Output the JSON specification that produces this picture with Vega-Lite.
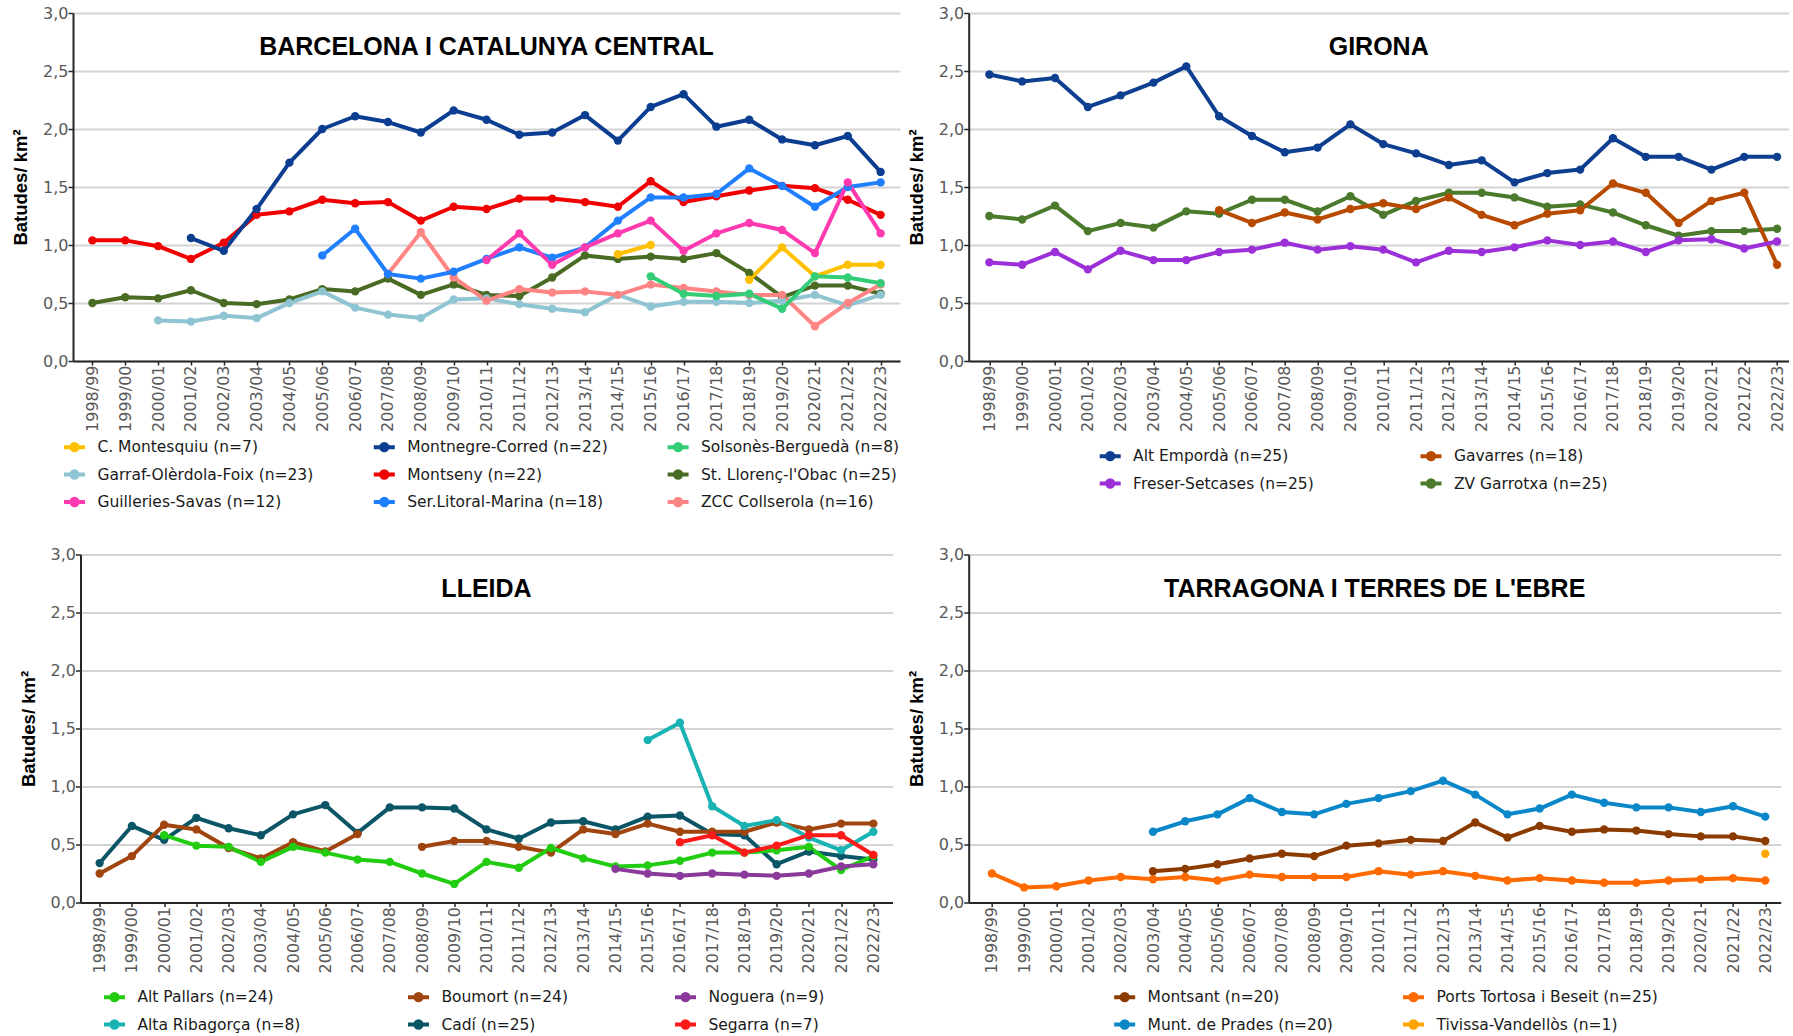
{
  "$schema": "https://vega.github.io/schema/vega-lite/v6.json",
  "background": "white",
  "padding": {"left": 11, "top": 5, "right": 0, "bottom": 0},
  "datasets": {
    "bcn": [
      {"s":"Montseny (n=22)","t":"1998/99","v":1.04,"p":1},{"s":"Montseny (n=22)","t":"1999/00","v":1.04,"p":1},{"s":"Montseny (n=22)","t":"2000/01","v":0.99,"p":1},{"s":"Montseny (n=22)","t":"2001/02","v":0.88,"p":1},{"s":"Montseny (n=22)","t":"2002/03","v":1.02,"p":1},{"s":"Montseny (n=22)","t":"2003/04","v":1.26,"p":1},{"s":"Montseny (n=22)","t":"2004/05","v":1.29,"p":1},{"s":"Montseny (n=22)","t":"2005/06","v":1.39,"p":1},{"s":"Montseny (n=22)","t":"2006/07","v":1.36,"p":1},{"s":"Montseny (n=22)","t":"2007/08","v":1.37,"p":1},{"s":"Montseny (n=22)","t":"2008/09","v":1.21,"p":1},{"s":"Montseny (n=22)","t":"2009/10","v":1.33,"p":1},{"s":"Montseny (n=22)","t":"2010/11","v":1.31,"p":1},{"s":"Montseny (n=22)","t":"2011/12","v":1.40,"p":1},{"s":"Montseny (n=22)","t":"2012/13","v":1.40,"p":1},{"s":"Montseny (n=22)","t":"2013/14","v":1.37,"p":1},{"s":"Montseny (n=22)","t":"2014/15","v":1.33,"p":1},{"s":"Montseny (n=22)","t":"2015/16","v":1.55,"p":1},{"s":"Montseny (n=22)","t":"2016/17","v":1.37,"p":1},{"s":"Montseny (n=22)","t":"2017/18","v":1.42,"p":1},{"s":"Montseny (n=22)","t":"2018/19","v":1.47,"p":1},{"s":"Montseny (n=22)","t":"2019/20","v":1.51,"p":1},{"s":"Montseny (n=22)","t":"2020/21","v":1.49,"p":1},{"s":"Montseny (n=22)","t":"2021/22","v":1.39,"p":1},{"s":"Montseny (n=22)","t":"2022/23","v":1.26,"p":1},
      {"s":"Montnegre-Corred (n=22)","t":"2001/02","v":1.06,"p":1},{"s":"Montnegre-Corred (n=22)","t":"2002/03","v":0.95,"p":1},{"s":"Montnegre-Corred (n=22)","t":"2003/04","v":1.31,"p":1},{"s":"Montnegre-Corred (n=22)","t":"2004/05","v":1.71,"p":1},{"s":"Montnegre-Corred (n=22)","t":"2005/06","v":2.00,"p":1},{"s":"Montnegre-Corred (n=22)","t":"2006/07","v":2.11,"p":1},{"s":"Montnegre-Corred (n=22)","t":"2007/08","v":2.06,"p":1},{"s":"Montnegre-Corred (n=22)","t":"2008/09","v":1.97,"p":1},{"s":"Montnegre-Corred (n=22)","t":"2009/10","v":2.16,"p":1},{"s":"Montnegre-Corred (n=22)","t":"2010/11","v":2.08,"p":1},{"s":"Montnegre-Corred (n=22)","t":"2011/12","v":1.95,"p":1},{"s":"Montnegre-Corred (n=22)","t":"2012/13","v":1.97,"p":1},{"s":"Montnegre-Corred (n=22)","t":"2013/14","v":2.12,"p":1},{"s":"Montnegre-Corred (n=22)","t":"2014/15","v":1.90,"p":1},{"s":"Montnegre-Corred (n=22)","t":"2015/16","v":2.19,"p":1},{"s":"Montnegre-Corred (n=22)","t":"2016/17","v":2.30,"p":1},{"s":"Montnegre-Corred (n=22)","t":"2017/18","v":2.02,"p":1},{"s":"Montnegre-Corred (n=22)","t":"2018/19","v":2.08,"p":1},{"s":"Montnegre-Corred (n=22)","t":"2019/20","v":1.91,"p":1},{"s":"Montnegre-Corred (n=22)","t":"2020/21","v":1.86,"p":1},{"s":"Montnegre-Corred (n=22)","t":"2021/22","v":1.94,"p":1},{"s":"Montnegre-Corred (n=22)","t":"2022/23","v":1.63,"p":1},
      {"s":"St. Llorenç-l'Obac (n=25)","t":"1998/99","v":0.50,"p":1},{"s":"St. Llorenç-l'Obac (n=25)","t":"1999/00","v":0.55,"p":1},{"s":"St. Llorenç-l'Obac (n=25)","t":"2000/01","v":0.54,"p":1},{"s":"St. Llorenç-l'Obac (n=25)","t":"2001/02","v":0.61,"p":1},{"s":"St. Llorenç-l'Obac (n=25)","t":"2002/03","v":0.50,"p":1},{"s":"St. Llorenç-l'Obac (n=25)","t":"2003/04","v":0.49,"p":1},{"s":"St. Llorenç-l'Obac (n=25)","t":"2004/05","v":0.53,"p":1},{"s":"St. Llorenç-l'Obac (n=25)","t":"2005/06","v":0.62,"p":1},{"s":"St. Llorenç-l'Obac (n=25)","t":"2006/07","v":0.60,"p":1},{"s":"St. Llorenç-l'Obac (n=25)","t":"2007/08","v":0.71,"p":1},{"s":"St. Llorenç-l'Obac (n=25)","t":"2008/09","v":0.57,"p":1},{"s":"St. Llorenç-l'Obac (n=25)","t":"2009/10","v":0.66,"p":1},{"s":"St. Llorenç-l'Obac (n=25)","t":"2010/11","v":0.57,"p":1},{"s":"St. Llorenç-l'Obac (n=25)","t":"2011/12","v":0.56,"p":1},{"s":"St. Llorenç-l'Obac (n=25)","t":"2012/13","v":0.72,"p":1},{"s":"St. Llorenç-l'Obac (n=25)","t":"2013/14","v":0.91,"p":1},{"s":"St. Llorenç-l'Obac (n=25)","t":"2014/15","v":0.88,"p":1},{"s":"St. Llorenç-l'Obac (n=25)","t":"2015/16","v":0.90,"p":1},{"s":"St. Llorenç-l'Obac (n=25)","t":"2016/17","v":0.88,"p":1},{"s":"St. Llorenç-l'Obac (n=25)","t":"2017/18","v":0.93,"p":1},{"s":"St. Llorenç-l'Obac (n=25)","t":"2018/19","v":0.76,"p":1},{"s":"St. Llorenç-l'Obac (n=25)","t":"2019/20","v":0.55,"p":1},{"s":"St. Llorenç-l'Obac (n=25)","t":"2020/21","v":0.65,"p":1},{"s":"St. Llorenç-l'Obac (n=25)","t":"2021/22","v":0.65,"p":1},{"s":"St. Llorenç-l'Obac (n=25)","t":"2022/23","v":0.58,"p":1},
      {"s":"Garraf-Olèrdola-Foix (n=23)","t":"2000/01","v":0.35,"p":1},{"s":"Garraf-Olèrdola-Foix (n=23)","t":"2001/02","v":0.34,"p":1},{"s":"Garraf-Olèrdola-Foix (n=23)","t":"2002/03","v":0.39,"p":1},{"s":"Garraf-Olèrdola-Foix (n=23)","t":"2003/04","v":0.37,"p":1},{"s":"Garraf-Olèrdola-Foix (n=23)","t":"2004/05","v":0.50,"p":1},{"s":"Garraf-Olèrdola-Foix (n=23)","t":"2005/06","v":0.60,"p":1},{"s":"Garraf-Olèrdola-Foix (n=23)","t":"2006/07","v":0.46,"p":1},{"s":"Garraf-Olèrdola-Foix (n=23)","t":"2007/08","v":0.40,"p":1},{"s":"Garraf-Olèrdola-Foix (n=23)","t":"2008/09","v":0.37,"p":1},{"s":"Garraf-Olèrdola-Foix (n=23)","t":"2009/10","v":0.53,"p":1},{"s":"Garraf-Olèrdola-Foix (n=23)","t":"2010/11","v":0.54,"p":1},{"s":"Garraf-Olèrdola-Foix (n=23)","t":"2011/12","v":0.49,"p":1},{"s":"Garraf-Olèrdola-Foix (n=23)","t":"2012/13","v":0.45,"p":1},{"s":"Garraf-Olèrdola-Foix (n=23)","t":"2013/14","v":0.42,"p":1},{"s":"Garraf-Olèrdola-Foix (n=23)","t":"2014/15","v":0.57,"p":1},{"s":"Garraf-Olèrdola-Foix (n=23)","t":"2015/16","v":0.47,"p":1},{"s":"Garraf-Olèrdola-Foix (n=23)","t":"2016/17","v":0.51,"p":1},{"s":"Garraf-Olèrdola-Foix (n=23)","t":"2017/18","v":0.51,"p":1},{"s":"Garraf-Olèrdola-Foix (n=23)","t":"2018/19","v":0.50,"p":1},{"s":"Garraf-Olèrdola-Foix (n=23)","t":"2019/20","v":0.52,"p":1},{"s":"Garraf-Olèrdola-Foix (n=23)","t":"2020/21","v":0.57,"p":1},{"s":"Garraf-Olèrdola-Foix (n=23)","t":"2021/22","v":0.48,"p":1},{"s":"Garraf-Olèrdola-Foix (n=23)","t":"2022/23","v":0.57,"p":1},
      {"s":"ZCC Collserola (n=16)","t":"2007/08","v":0.75,"p":1},{"s":"ZCC Collserola (n=16)","t":"2008/09","v":1.11,"p":1},{"s":"ZCC Collserola (n=16)","t":"2009/10","v":0.72,"p":1},{"s":"ZCC Collserola (n=16)","t":"2010/11","v":0.52,"p":1},{"s":"ZCC Collserola (n=16)","t":"2011/12","v":0.62,"p":1},{"s":"ZCC Collserola (n=16)","t":"2012/13","v":0.59,"p":1},{"s":"ZCC Collserola (n=16)","t":"2013/14","v":0.60,"p":1},{"s":"ZCC Collserola (n=16)","t":"2014/15","v":0.57,"p":1},{"s":"ZCC Collserola (n=16)","t":"2015/16","v":0.66,"p":1},{"s":"ZCC Collserola (n=16)","t":"2016/17","v":0.63,"p":1},{"s":"ZCC Collserola (n=16)","t":"2017/18","v":0.60,"p":1},{"s":"ZCC Collserola (n=16)","t":"2018/19","v":0.57,"p":1},{"s":"ZCC Collserola (n=16)","t":"2019/20","v":0.57,"p":1},{"s":"ZCC Collserola (n=16)","t":"2020/21","v":0.30,"p":1},{"s":"ZCC Collserola (n=16)","t":"2021/22","v":0.50,"p":1},{"s":"ZCC Collserola (n=16)","t":"2022/23","v":0.66,"p":1},
      {"s":"Ser.Litoral-Marina (n=18)","t":"2005/06","v":0.91,"p":1},{"s":"Ser.Litoral-Marina (n=18)","t":"2006/07","v":1.14,"p":1},{"s":"Ser.Litoral-Marina (n=18)","t":"2007/08","v":0.75,"p":1},{"s":"Ser.Litoral-Marina (n=18)","t":"2008/09","v":0.71,"p":1},{"s":"Ser.Litoral-Marina (n=18)","t":"2009/10","v":0.77,"p":1},{"s":"Ser.Litoral-Marina (n=18)","t":"2010/11","v":0.88,"p":1},{"s":"Ser.Litoral-Marina (n=18)","t":"2011/12","v":0.98,"p":1},{"s":"Ser.Litoral-Marina (n=18)","t":"2012/13","v":0.89,"p":1},{"s":"Ser.Litoral-Marina (n=18)","t":"2013/14","v":0.98,"p":1},{"s":"Ser.Litoral-Marina (n=18)","t":"2014/15","v":1.21,"p":1},{"s":"Ser.Litoral-Marina (n=18)","t":"2015/16","v":1.41,"p":1},{"s":"Ser.Litoral-Marina (n=18)","t":"2016/17","v":1.41,"p":1},{"s":"Ser.Litoral-Marina (n=18)","t":"2017/18","v":1.44,"p":1},{"s":"Ser.Litoral-Marina (n=18)","t":"2018/19","v":1.66,"p":1},{"s":"Ser.Litoral-Marina (n=18)","t":"2019/20","v":1.51,"p":1},{"s":"Ser.Litoral-Marina (n=18)","t":"2020/21","v":1.33,"p":1},{"s":"Ser.Litoral-Marina (n=18)","t":"2021/22","v":1.50,"p":1},{"s":"Ser.Litoral-Marina (n=18)","t":"2022/23","v":1.54,"p":1},
      {"s":"Guilleries-Savas (n=12)","t":"2010/11","v":0.87,"p":1},{"s":"Guilleries-Savas (n=12)","t":"2011/12","v":1.10,"p":1},{"s":"Guilleries-Savas (n=12)","t":"2012/13","v":0.83,"p":1},{"s":"Guilleries-Savas (n=12)","t":"2013/14","v":0.98,"p":1},{"s":"Guilleries-Savas (n=12)","t":"2014/15","v":1.10,"p":1},{"s":"Guilleries-Savas (n=12)","t":"2015/16","v":1.21,"p":1},{"s":"Guilleries-Savas (n=12)","t":"2016/17","v":0.95,"p":1},{"s":"Guilleries-Savas (n=12)","t":"2017/18","v":1.10,"p":1},{"s":"Guilleries-Savas (n=12)","t":"2018/19","v":1.19,"p":1},{"s":"Guilleries-Savas (n=12)","t":"2019/20","v":1.13,"p":1},{"s":"Guilleries-Savas (n=12)","t":"2020/21","v":0.93,"p":1},{"s":"Guilleries-Savas (n=12)","t":"2021/22","v":1.54,"p":1},{"s":"Guilleries-Savas (n=12)","t":"2022/23","v":1.10,"p":1},
      {"s":"C. Montesquiu (n=7)","t":"2014/15","v":0.92,"p":1},{"s":"C. Montesquiu (n=7)","t":"2015/16","v":1.00,"p":1},{"s":"C. Montesquiu (n=7)","t":"2018/19","v":0.70,"p":2},{"s":"C. Montesquiu (n=7)","t":"2019/20","v":0.98,"p":2},{"s":"C. Montesquiu (n=7)","t":"2020/21","v":0.73,"p":2},{"s":"C. Montesquiu (n=7)","t":"2021/22","v":0.83,"p":2},{"s":"C. Montesquiu (n=7)","t":"2022/23","v":0.83,"p":2},
      {"s":"Solsonès-Berguedà (n=8)","t":"2015/16","v":0.73,"p":1},{"s":"Solsonès-Berguedà (n=8)","t":"2016/17","v":0.58,"p":1},{"s":"Solsonès-Berguedà (n=8)","t":"2017/18","v":0.56,"p":1},{"s":"Solsonès-Berguedà (n=8)","t":"2018/19","v":0.58,"p":1},{"s":"Solsonès-Berguedà (n=8)","t":"2019/20","v":0.45,"p":1},{"s":"Solsonès-Berguedà (n=8)","t":"2020/21","v":0.73,"p":1},{"s":"Solsonès-Berguedà (n=8)","t":"2021/22","v":0.72,"p":1},{"s":"Solsonès-Berguedà (n=8)","t":"2022/23","v":0.67,"p":1}
    ],
    "gir": [
      {"s":"Alt Empordà (n=25)","t":"1998/99","v":2.47,"p":1},{"s":"Alt Empordà (n=25)","t":"1999/00","v":2.41,"p":1},{"s":"Alt Empordà (n=25)","t":"2000/01","v":2.44,"p":1},{"s":"Alt Empordà (n=25)","t":"2001/02","v":2.19,"p":1},{"s":"Alt Empordà (n=25)","t":"2002/03","v":2.29,"p":1},{"s":"Alt Empordà (n=25)","t":"2003/04","v":2.40,"p":1},{"s":"Alt Empordà (n=25)","t":"2004/05","v":2.54,"p":1},{"s":"Alt Empordà (n=25)","t":"2005/06","v":2.11,"p":1},{"s":"Alt Empordà (n=25)","t":"2006/07","v":1.94,"p":1},{"s":"Alt Empordà (n=25)","t":"2007/08","v":1.80,"p":1},{"s":"Alt Empordà (n=25)","t":"2008/09","v":1.84,"p":1},{"s":"Alt Empordà (n=25)","t":"2009/10","v":2.04,"p":1},{"s":"Alt Empordà (n=25)","t":"2010/11","v":1.87,"p":1},{"s":"Alt Empordà (n=25)","t":"2011/12","v":1.79,"p":1},{"s":"Alt Empordà (n=25)","t":"2012/13","v":1.69,"p":1},{"s":"Alt Empordà (n=25)","t":"2013/14","v":1.73,"p":1},{"s":"Alt Empordà (n=25)","t":"2014/15","v":1.54,"p":1},{"s":"Alt Empordà (n=25)","t":"2015/16","v":1.62,"p":1},{"s":"Alt Empordà (n=25)","t":"2016/17","v":1.65,"p":1},{"s":"Alt Empordà (n=25)","t":"2017/18","v":1.92,"p":1},{"s":"Alt Empordà (n=25)","t":"2018/19","v":1.76,"p":1},{"s":"Alt Empordà (n=25)","t":"2019/20","v":1.76,"p":1},{"s":"Alt Empordà (n=25)","t":"2020/21","v":1.65,"p":1},{"s":"Alt Empordà (n=25)","t":"2021/22","v":1.76,"p":1},{"s":"Alt Empordà (n=25)","t":"2022/23","v":1.76,"p":1},
      {"s":"ZV Garrotxa (n=25)","t":"1998/99","v":1.25,"p":1},{"s":"ZV Garrotxa (n=25)","t":"1999/00","v":1.22,"p":1},{"s":"ZV Garrotxa (n=25)","t":"2000/01","v":1.34,"p":1},{"s":"ZV Garrotxa (n=25)","t":"2001/02","v":1.12,"p":1},{"s":"ZV Garrotxa (n=25)","t":"2002/03","v":1.19,"p":1},{"s":"ZV Garrotxa (n=25)","t":"2003/04","v":1.15,"p":1},{"s":"ZV Garrotxa (n=25)","t":"2004/05","v":1.29,"p":1},{"s":"ZV Garrotxa (n=25)","t":"2005/06","v":1.27,"p":1},{"s":"ZV Garrotxa (n=25)","t":"2006/07","v":1.39,"p":1},{"s":"ZV Garrotxa (n=25)","t":"2007/08","v":1.39,"p":1},{"s":"ZV Garrotxa (n=25)","t":"2008/09","v":1.29,"p":1},{"s":"ZV Garrotxa (n=25)","t":"2009/10","v":1.42,"p":1},{"s":"ZV Garrotxa (n=25)","t":"2010/11","v":1.26,"p":1},{"s":"ZV Garrotxa (n=25)","t":"2011/12","v":1.38,"p":1},{"s":"ZV Garrotxa (n=25)","t":"2012/13","v":1.45,"p":1},{"s":"ZV Garrotxa (n=25)","t":"2013/14","v":1.45,"p":1},{"s":"ZV Garrotxa (n=25)","t":"2014/15","v":1.41,"p":1},{"s":"ZV Garrotxa (n=25)","t":"2015/16","v":1.33,"p":1},{"s":"ZV Garrotxa (n=25)","t":"2016/17","v":1.35,"p":1},{"s":"ZV Garrotxa (n=25)","t":"2017/18","v":1.28,"p":1},{"s":"ZV Garrotxa (n=25)","t":"2018/19","v":1.17,"p":1},{"s":"ZV Garrotxa (n=25)","t":"2019/20","v":1.08,"p":1},{"s":"ZV Garrotxa (n=25)","t":"2020/21","v":1.12,"p":1},{"s":"ZV Garrotxa (n=25)","t":"2021/22","v":1.12,"p":1},{"s":"ZV Garrotxa (n=25)","t":"2022/23","v":1.14,"p":1},
      {"s":"Gavarres (n=18)","t":"2005/06","v":1.30,"p":1},{"s":"Gavarres (n=18)","t":"2006/07","v":1.19,"p":1},{"s":"Gavarres (n=18)","t":"2007/08","v":1.28,"p":1},{"s":"Gavarres (n=18)","t":"2008/09","v":1.22,"p":1},{"s":"Gavarres (n=18)","t":"2009/10","v":1.31,"p":1},{"s":"Gavarres (n=18)","t":"2010/11","v":1.36,"p":1},{"s":"Gavarres (n=18)","t":"2011/12","v":1.31,"p":1},{"s":"Gavarres (n=18)","t":"2012/13","v":1.41,"p":1},{"s":"Gavarres (n=18)","t":"2013/14","v":1.26,"p":1},{"s":"Gavarres (n=18)","t":"2014/15","v":1.17,"p":1},{"s":"Gavarres (n=18)","t":"2015/16","v":1.27,"p":1},{"s":"Gavarres (n=18)","t":"2016/17","v":1.30,"p":1},{"s":"Gavarres (n=18)","t":"2017/18","v":1.53,"p":1},{"s":"Gavarres (n=18)","t":"2018/19","v":1.45,"p":1},{"s":"Gavarres (n=18)","t":"2019/20","v":1.19,"p":1},{"s":"Gavarres (n=18)","t":"2020/21","v":1.38,"p":1},{"s":"Gavarres (n=18)","t":"2021/22","v":1.45,"p":1},{"s":"Gavarres (n=18)","t":"2022/23","v":0.83,"p":1},
      {"s":"Freser-Setcases (n=25)","t":"1998/99","v":0.85,"p":1},{"s":"Freser-Setcases (n=25)","t":"1999/00","v":0.83,"p":1},{"s":"Freser-Setcases (n=25)","t":"2000/01","v":0.94,"p":1},{"s":"Freser-Setcases (n=25)","t":"2001/02","v":0.79,"p":1},{"s":"Freser-Setcases (n=25)","t":"2002/03","v":0.95,"p":1},{"s":"Freser-Setcases (n=25)","t":"2003/04","v":0.87,"p":1},{"s":"Freser-Setcases (n=25)","t":"2004/05","v":0.87,"p":1},{"s":"Freser-Setcases (n=25)","t":"2005/06","v":0.94,"p":1},{"s":"Freser-Setcases (n=25)","t":"2006/07","v":0.96,"p":1},{"s":"Freser-Setcases (n=25)","t":"2007/08","v":1.02,"p":1},{"s":"Freser-Setcases (n=25)","t":"2008/09","v":0.96,"p":1},{"s":"Freser-Setcases (n=25)","t":"2009/10","v":0.99,"p":1},{"s":"Freser-Setcases (n=25)","t":"2010/11","v":0.96,"p":1},{"s":"Freser-Setcases (n=25)","t":"2011/12","v":0.85,"p":1},{"s":"Freser-Setcases (n=25)","t":"2012/13","v":0.95,"p":1},{"s":"Freser-Setcases (n=25)","t":"2013/14","v":0.94,"p":1},{"s":"Freser-Setcases (n=25)","t":"2014/15","v":0.98,"p":1},{"s":"Freser-Setcases (n=25)","t":"2015/16","v":1.04,"p":1},{"s":"Freser-Setcases (n=25)","t":"2016/17","v":1.00,"p":1},{"s":"Freser-Setcases (n=25)","t":"2017/18","v":1.03,"p":1},{"s":"Freser-Setcases (n=25)","t":"2018/19","v":0.94,"p":1},{"s":"Freser-Setcases (n=25)","t":"2019/20","v":1.04,"p":1},{"s":"Freser-Setcases (n=25)","t":"2020/21","v":1.05,"p":1},{"s":"Freser-Setcases (n=25)","t":"2021/22","v":0.97,"p":1},{"s":"Freser-Setcases (n=25)","t":"2022/23","v":1.03,"p":1}
    ],
    "lle": [
      {"s":"Cadí (n=25)","t":"1998/99","v":0.34,"p":1},{"s":"Cadí (n=25)","t":"1999/00","v":0.66,"p":1},{"s":"Cadí (n=25)","t":"2000/01","v":0.54,"p":1},{"s":"Cadí (n=25)","t":"2001/02","v":0.73,"p":1},{"s":"Cadí (n=25)","t":"2002/03","v":0.64,"p":1},{"s":"Cadí (n=25)","t":"2003/04","v":0.58,"p":1},{"s":"Cadí (n=25)","t":"2004/05","v":0.76,"p":1},{"s":"Cadí (n=25)","t":"2005/06","v":0.84,"p":1},{"s":"Cadí (n=25)","t":"2006/07","v":0.60,"p":1},{"s":"Cadí (n=25)","t":"2007/08","v":0.82,"p":1},{"s":"Cadí (n=25)","t":"2008/09","v":0.82,"p":1},{"s":"Cadí (n=25)","t":"2009/10","v":0.81,"p":1},{"s":"Cadí (n=25)","t":"2010/11","v":0.63,"p":1},{"s":"Cadí (n=25)","t":"2011/12","v":0.55,"p":1},{"s":"Cadí (n=25)","t":"2012/13","v":0.69,"p":1},{"s":"Cadí (n=25)","t":"2013/14","v":0.70,"p":1},{"s":"Cadí (n=25)","t":"2014/15","v":0.63,"p":1},{"s":"Cadí (n=25)","t":"2015/16","v":0.74,"p":1},{"s":"Cadí (n=25)","t":"2016/17","v":0.75,"p":1},{"s":"Cadí (n=25)","t":"2017/18","v":0.59,"p":1},{"s":"Cadí (n=25)","t":"2018/19","v":0.58,"p":1},{"s":"Cadí (n=25)","t":"2019/20","v":0.33,"p":1},{"s":"Cadí (n=25)","t":"2020/21","v":0.44,"p":1},{"s":"Cadí (n=25)","t":"2021/22","v":0.40,"p":1},{"s":"Cadí (n=25)","t":"2022/23","v":0.37,"p":1},
      {"s":"Boumort (n=24)","t":"1998/99","v":0.25,"p":1},{"s":"Boumort (n=24)","t":"1999/00","v":0.40,"p":1},{"s":"Boumort (n=24)","t":"2000/01","v":0.67,"p":1},{"s":"Boumort (n=24)","t":"2001/02","v":0.63,"p":1},{"s":"Boumort (n=24)","t":"2002/03","v":0.47,"p":1},{"s":"Boumort (n=24)","t":"2003/04","v":0.38,"p":1},{"s":"Boumort (n=24)","t":"2004/05","v":0.52,"p":1},{"s":"Boumort (n=24)","t":"2005/06","v":0.44,"p":1},{"s":"Boumort (n=24)","t":"2006/07","v":0.59,"p":1},{"s":"Boumort (n=24)","t":"2008/09","v":0.48,"p":2},{"s":"Boumort (n=24)","t":"2009/10","v":0.53,"p":2},{"s":"Boumort (n=24)","t":"2010/11","v":0.53,"p":2},{"s":"Boumort (n=24)","t":"2011/12","v":0.48,"p":2},{"s":"Boumort (n=24)","t":"2012/13","v":0.43,"p":2},{"s":"Boumort (n=24)","t":"2013/14","v":0.63,"p":2},{"s":"Boumort (n=24)","t":"2014/15","v":0.59,"p":2},{"s":"Boumort (n=24)","t":"2015/16","v":0.68,"p":2},{"s":"Boumort (n=24)","t":"2016/17","v":0.61,"p":2},{"s":"Boumort (n=24)","t":"2017/18","v":0.61,"p":2},{"s":"Boumort (n=24)","t":"2018/19","v":0.61,"p":2},{"s":"Boumort (n=24)","t":"2019/20","v":0.69,"p":2},{"s":"Boumort (n=24)","t":"2020/21","v":0.63,"p":2},{"s":"Boumort (n=24)","t":"2021/22","v":0.68,"p":2},{"s":"Boumort (n=24)","t":"2022/23","v":0.68,"p":2},
      {"s":"Alt Pallars (n=24)","t":"2000/01","v":0.58,"p":1},{"s":"Alt Pallars (n=24)","t":"2001/02","v":0.49,"p":1},{"s":"Alt Pallars (n=24)","t":"2002/03","v":0.48,"p":1},{"s":"Alt Pallars (n=24)","t":"2003/04","v":0.35,"p":1},{"s":"Alt Pallars (n=24)","t":"2004/05","v":0.48,"p":1},{"s":"Alt Pallars (n=24)","t":"2005/06","v":0.43,"p":1},{"s":"Alt Pallars (n=24)","t":"2006/07","v":0.37,"p":1},{"s":"Alt Pallars (n=24)","t":"2007/08","v":0.35,"p":1},{"s":"Alt Pallars (n=24)","t":"2008/09","v":0.25,"p":1},{"s":"Alt Pallars (n=24)","t":"2009/10","v":0.16,"p":1},{"s":"Alt Pallars (n=24)","t":"2010/11","v":0.35,"p":1},{"s":"Alt Pallars (n=24)","t":"2011/12","v":0.30,"p":1},{"s":"Alt Pallars (n=24)","t":"2012/13","v":0.47,"p":1},{"s":"Alt Pallars (n=24)","t":"2013/14","v":0.38,"p":1},{"s":"Alt Pallars (n=24)","t":"2014/15","v":0.31,"p":1},{"s":"Alt Pallars (n=24)","t":"2015/16","v":0.32,"p":1},{"s":"Alt Pallars (n=24)","t":"2016/17","v":0.36,"p":1},{"s":"Alt Pallars (n=24)","t":"2017/18","v":0.43,"p":1},{"s":"Alt Pallars (n=24)","t":"2018/19","v":0.43,"p":1},{"s":"Alt Pallars (n=24)","t":"2019/20","v":0.45,"p":1},{"s":"Alt Pallars (n=24)","t":"2020/21","v":0.48,"p":1},{"s":"Alt Pallars (n=24)","t":"2021/22","v":0.28,"p":1},{"s":"Alt Pallars (n=24)","t":"2022/23","v":0.40,"p":1},
      {"s":"Noguera (n=9)","t":"2014/15","v":0.29,"p":1},{"s":"Noguera (n=9)","t":"2015/16","v":0.25,"p":1},{"s":"Noguera (n=9)","t":"2016/17","v":0.23,"p":1},{"s":"Noguera (n=9)","t":"2017/18","v":0.25,"p":1},{"s":"Noguera (n=9)","t":"2018/19","v":0.24,"p":1},{"s":"Noguera (n=9)","t":"2019/20","v":0.23,"p":1},{"s":"Noguera (n=9)","t":"2020/21","v":0.25,"p":1},{"s":"Noguera (n=9)","t":"2021/22","v":0.31,"p":1},{"s":"Noguera (n=9)","t":"2022/23","v":0.33,"p":1},
      {"s":"Alta Ribagorça (n=8)","t":"2015/16","v":1.40,"p":1},{"s":"Alta Ribagorça (n=8)","t":"2016/17","v":1.55,"p":1},{"s":"Alta Ribagorça (n=8)","t":"2017/18","v":0.83,"p":1},{"s":"Alta Ribagorça (n=8)","t":"2018/19","v":0.66,"p":1},{"s":"Alta Ribagorça (n=8)","t":"2019/20","v":0.71,"p":1},{"s":"Alta Ribagorça (n=8)","t":"2020/21","v":0.56,"p":1},{"s":"Alta Ribagorça (n=8)","t":"2021/22","v":0.45,"p":1},{"s":"Alta Ribagorça (n=8)","t":"2022/23","v":0.61,"p":1},
      {"s":"Segarra (n=7)","t":"2016/17","v":0.52,"p":1},{"s":"Segarra (n=7)","t":"2017/18","v":0.58,"p":1},{"s":"Segarra (n=7)","t":"2018/19","v":0.43,"p":1},{"s":"Segarra (n=7)","t":"2019/20","v":0.49,"p":1},{"s":"Segarra (n=7)","t":"2020/21","v":0.58,"p":1},{"s":"Segarra (n=7)","t":"2021/22","v":0.58,"p":1},{"s":"Segarra (n=7)","t":"2022/23","v":0.41,"p":1}
    ],
    "tar": [
      {"s":"Ports Tortosa i Beseit (n=25)","t":"1998/99","v":0.25,"p":1},{"s":"Ports Tortosa i Beseit (n=25)","t":"1999/00","v":0.13,"p":1},{"s":"Ports Tortosa i Beseit (n=25)","t":"2000/01","v":0.14,"p":1},{"s":"Ports Tortosa i Beseit (n=25)","t":"2001/02","v":0.19,"p":1},{"s":"Ports Tortosa i Beseit (n=25)","t":"2002/03","v":0.22,"p":1},{"s":"Ports Tortosa i Beseit (n=25)","t":"2003/04","v":0.20,"p":1},{"s":"Ports Tortosa i Beseit (n=25)","t":"2004/05","v":0.22,"p":1},{"s":"Ports Tortosa i Beseit (n=25)","t":"2005/06","v":0.19,"p":1},{"s":"Ports Tortosa i Beseit (n=25)","t":"2006/07","v":0.24,"p":1},{"s":"Ports Tortosa i Beseit (n=25)","t":"2007/08","v":0.22,"p":1},{"s":"Ports Tortosa i Beseit (n=25)","t":"2008/09","v":0.22,"p":1},{"s":"Ports Tortosa i Beseit (n=25)","t":"2009/10","v":0.22,"p":1},{"s":"Ports Tortosa i Beseit (n=25)","t":"2010/11","v":0.27,"p":1},{"s":"Ports Tortosa i Beseit (n=25)","t":"2011/12","v":0.24,"p":1},{"s":"Ports Tortosa i Beseit (n=25)","t":"2012/13","v":0.27,"p":1},{"s":"Ports Tortosa i Beseit (n=25)","t":"2013/14","v":0.23,"p":1},{"s":"Ports Tortosa i Beseit (n=25)","t":"2014/15","v":0.19,"p":1},{"s":"Ports Tortosa i Beseit (n=25)","t":"2015/16","v":0.21,"p":1},{"s":"Ports Tortosa i Beseit (n=25)","t":"2016/17","v":0.19,"p":1},{"s":"Ports Tortosa i Beseit (n=25)","t":"2017/18","v":0.17,"p":1},{"s":"Ports Tortosa i Beseit (n=25)","t":"2018/19","v":0.17,"p":1},{"s":"Ports Tortosa i Beseit (n=25)","t":"2019/20","v":0.19,"p":1},{"s":"Ports Tortosa i Beseit (n=25)","t":"2020/21","v":0.20,"p":1},{"s":"Ports Tortosa i Beseit (n=25)","t":"2021/22","v":0.21,"p":1},{"s":"Ports Tortosa i Beseit (n=25)","t":"2022/23","v":0.19,"p":1},
      {"s":"Montsant (n=20)","t":"2003/04","v":0.27,"p":1},{"s":"Montsant (n=20)","t":"2004/05","v":0.29,"p":1},{"s":"Montsant (n=20)","t":"2005/06","v":0.33,"p":1},{"s":"Montsant (n=20)","t":"2006/07","v":0.38,"p":1},{"s":"Montsant (n=20)","t":"2007/08","v":0.42,"p":1},{"s":"Montsant (n=20)","t":"2008/09","v":0.40,"p":1},{"s":"Montsant (n=20)","t":"2009/10","v":0.49,"p":1},{"s":"Montsant (n=20)","t":"2010/11","v":0.51,"p":1},{"s":"Montsant (n=20)","t":"2011/12","v":0.54,"p":1},{"s":"Montsant (n=20)","t":"2012/13","v":0.53,"p":1},{"s":"Montsant (n=20)","t":"2013/14","v":0.69,"p":1},{"s":"Montsant (n=20)","t":"2014/15","v":0.56,"p":1},{"s":"Montsant (n=20)","t":"2015/16","v":0.66,"p":1},{"s":"Montsant (n=20)","t":"2016/17","v":0.61,"p":1},{"s":"Montsant (n=20)","t":"2017/18","v":0.63,"p":1},{"s":"Montsant (n=20)","t":"2018/19","v":0.62,"p":1},{"s":"Montsant (n=20)","t":"2019/20","v":0.59,"p":1},{"s":"Montsant (n=20)","t":"2020/21","v":0.57,"p":1},{"s":"Montsant (n=20)","t":"2021/22","v":0.57,"p":1},{"s":"Montsant (n=20)","t":"2022/23","v":0.53,"p":1},
      {"s":"Munt. de Prades (n=20)","t":"2003/04","v":0.61,"p":1},{"s":"Munt. de Prades (n=20)","t":"2004/05","v":0.70,"p":1},{"s":"Munt. de Prades (n=20)","t":"2005/06","v":0.76,"p":1},{"s":"Munt. de Prades (n=20)","t":"2006/07","v":0.90,"p":1},{"s":"Munt. de Prades (n=20)","t":"2007/08","v":0.78,"p":1},{"s":"Munt. de Prades (n=20)","t":"2008/09","v":0.76,"p":1},{"s":"Munt. de Prades (n=20)","t":"2009/10","v":0.85,"p":1},{"s":"Munt. de Prades (n=20)","t":"2010/11","v":0.90,"p":1},{"s":"Munt. de Prades (n=20)","t":"2011/12","v":0.96,"p":1},{"s":"Munt. de Prades (n=20)","t":"2012/13","v":1.05,"p":1},{"s":"Munt. de Prades (n=20)","t":"2013/14","v":0.93,"p":1},{"s":"Munt. de Prades (n=20)","t":"2014/15","v":0.76,"p":1},{"s":"Munt. de Prades (n=20)","t":"2015/16","v":0.81,"p":1},{"s":"Munt. de Prades (n=20)","t":"2016/17","v":0.93,"p":1},{"s":"Munt. de Prades (n=20)","t":"2017/18","v":0.86,"p":1},{"s":"Munt. de Prades (n=20)","t":"2018/19","v":0.82,"p":1},{"s":"Munt. de Prades (n=20)","t":"2019/20","v":0.82,"p":1},{"s":"Munt. de Prades (n=20)","t":"2020/21","v":0.78,"p":1},{"s":"Munt. de Prades (n=20)","t":"2021/22","v":0.83,"p":1},{"s":"Munt. de Prades (n=20)","t":"2022/23","v":0.74,"p":1},
      {"s":"Tivissa-Vandellòs (n=1)","t":"2022/23","v":0.42,"p":1}
    ]
  },
  "config": {
    "view": {"stroke": null},
    "font": "Liberation Sans",
    "title": {"font": "Liberation Sans", "fontSize": 25, "fontWeight": "bold", "color": "#000000", "anchor": "middle", "frame": "group", "offset": -55, "baseline": "alphabetic"},
    "axisX": {"title": null, "labelAngle": 270, "labelFont": "DejaVu Sans", "labelFontSize": 16, "labelColor": "#595959", "tickSize": 4, "tickColor": "#262626", "tickWidth": 1.5, "domainColor": "#262626", "domainWidth": 2, "labelPadding": 0, "grid": false},
    "axisY": {"labelFont": "DejaVu Sans", "labelFontSize": 16, "labelColor": "#595959", "tickSize": 5, "tickColor": "#262626", "tickWidth": 1.5, "domainColor": "#262626", "domainWidth": 2, "gridColor": "#d3d3d3", "gridWidth": 2, "titleFont": "Liberation Sans", "titleFontSize": 18.5, "titleFontWeight": "bold", "titleColor": "#000000", "titlePadding": 11.7, "labelPadding": 0},
    "legend": {"symbolType": "M-1,0L1,0M-0.3,0A0.3,0.3,0,1,0,0.3,0A0.3,0.3,0,1,0,-0.3,0", "symbolSize": 441, "symbolStrokeWidth": 4, "labelFont": "DejaVu Sans", "labelFontSize": 15.5, "labelColor": "#1a1a1a", "labelOffset": 10.4, "labelLimit": 400, "rowPadding": 3.5, "orient": "none"}
  },
  "columns": 2,
  "spacing": {"row": 193.5, "column": 68.7},
  "center": true,
  "align": "each",
  "bounds": "flush",
  "resolve": {"scale": {"color": "independent", "x": "independent", "y": "independent"}, "legend": {"color": "independent"}},
  "concat": [
    {
      "width": 827, "height": 348,
      "data": {"name": "bcn"},
      "title": "BARCELONA I CATALUNYA CENTRAL",
      "encoding": {
        "x": {"field": "t", "type": "ordinal", "scale": {"type": "point", "padding": 0.59}},
        "y": {"field": "v", "type": "quantitative", "title": "Batudes/ km²", "scale": {"domain": [0, 3], "nice": false}, "axis": {"values": [0, 0.5, 1, 1.5, 2, 2.5, 3], "labelExpr": "replace(format(datum.value, '.1f'), '.', ',')"}},
        "color": {"field": "s", "type": "nominal", "title": null,
          "scale": {"domain": ["C. Montesquiu (n=7)", "Garraf-Olèrdola-Foix (n=23)", "Guilleries-Savas (n=12)", "Montnegre-Corred (n=22)", "Montseny (n=22)", "Ser.Litoral-Marina (n=18)", "Solsonès-Berguedà (n=8)", "St. Llorenç-l'Obac (n=25)", "ZCC Collserola (n=16)"],
                    "range": ["#ffc000", "#8fc4d2", "#ff3ab0", "#0b3d91", "#f00000", "#1f7fff", "#33cc77", "#4a6b24", "#ff8585"]},
          "legend": {"columns": 3, "columnPadding": 51.8, "legendX": -11, "legendY": 421.5}},
        "detail": {"field": "p"}
      },
      "layer": [
        {"mark": {"type": "line", "strokeWidth": 4, "strokeJoin": "round", "strokeCap": "round"}},
        {"mark": {"type": "circle", "size": 70, "opacity": 1}}
      ]
    },
    {
      "width": 820, "height": 348,
      "data": {"name": "gir"},
      "title": "GIRONA",
      "encoding": {
        "x": {"field": "t", "type": "ordinal", "scale": {"type": "point", "padding": 0.492, "align": 0.64}},
        "y": {"field": "v", "type": "quantitative", "title": "Batudes/ km²", "scale": {"domain": [0, 3], "nice": false}, "axis": {"values": [0, 0.5, 1, 1.5, 2, 2.5, 3], "labelExpr": "replace(format(datum.value, '.1f'), '.', ',')"}},
        "color": {"field": "s", "type": "nominal", "title": null,
          "scale": {"domain": ["Alt Empordà (n=25)", "Freser-Setcases (n=25)", "Gavarres (n=18)", "ZV Garrotxa (n=25)"],
                    "range": ["#0d3e90", "#9b30d9", "#b84a00", "#4c7a2c"]},
          "legend": {"columns": 2, "columnPadding": 97.8, "legendX": 129, "legendY": 430.5}},
        "detail": {"field": "p"}
      },
      "layer": [
        {"mark": {"type": "line", "strokeWidth": 4, "strokeJoin": "round", "strokeCap": "round"}},
        {"mark": {"type": "circle", "size": 70, "opacity": 1}}
      ]
    },
    {
      "width": 812, "height": 348,
      "data": {"name": "lle"},
      "title": "LLEIDA",
      "encoding": {
        "x": {"field": "t", "type": "ordinal", "scale": {"type": "point", "padding": 0.594}},
        "y": {"field": "v", "type": "quantitative", "title": "Batudes/ km²", "scale": {"domain": [0, 3], "nice": false}, "axis": {"values": [0, 0.5, 1, 1.5, 2, 2.5, 3], "labelExpr": "replace(format(datum.value, '.1f'), '.', ',')"}},
        "color": {"field": "s", "type": "nominal", "title": null,
          "scale": {"domain": ["Alt Pallars (n=24)", "Alta Ribagorça (n=8)", "Boumort (n=24)", "Cadí (n=25)", "Noguera (n=9)", "Segarra (n=7)"],
                    "range": ["#22cc11", "#1ab3b3", "#a0450f", "#0a5566", "#8a3a9a", "#ff1a1a"]},
          "legend": {"columns": 3, "columnPadding": 99, "legendX": 21.5, "legendY": 430}},
        "detail": {"field": "p"}
      },
      "layer": [
        {"mark": {"type": "line", "strokeWidth": 4, "strokeJoin": "round", "strokeCap": "round"}},
        {"mark": {"type": "circle", "size": 70, "opacity": 1}}
      ]
    },
    {
      "width": 812, "height": 348,
      "data": {"name": "tar"},
      "title": "TARRAGONA I TERRES DE L'EBRE",
      "encoding": {
        "x": {"field": "t", "type": "ordinal", "scale": {"type": "point", "padding": 0.6, "align": 0.6}},
        "y": {"field": "v", "type": "quantitative", "title": "Batudes/ km²", "scale": {"domain": [0, 3], "nice": false}, "axis": {"values": [0, 0.5, 1, 1.5, 2, 2.5, 3], "labelExpr": "replace(format(datum.value, '.1f'), '.', ',')"}},
        "color": {"field": "s", "type": "nominal", "title": null,
          "scale": {"domain": ["Montsant (n=20)", "Munt. de Prades (n=20)", "Ports Tortosa i Beseit (n=25)", "Tivissa-Vandellòs (n=1)"],
                    "range": ["#8b3b00", "#0a87c8", "#ff6a00", "#ffa500"]},
          "legend": {"columns": 2, "columnPadding": 61.8, "legendX": 143.5, "legendY": 430}},
        "detail": {"field": "p"}
      },
      "layer": [
        {"mark": {"type": "line", "strokeWidth": 4, "strokeJoin": "round", "strokeCap": "round"}},
        {"mark": {"type": "circle", "size": 70, "opacity": 1}}
      ]
    }
  ]
}
